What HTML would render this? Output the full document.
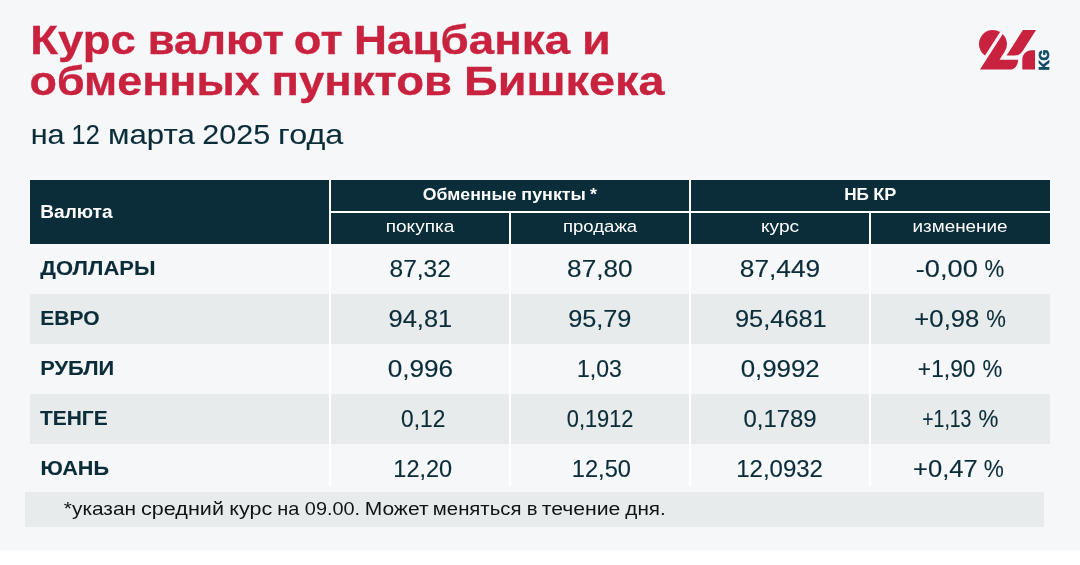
<!DOCTYPE html>
<html lang="ru"><head><meta charset="utf-8"><title>Курс валют от Нацбанка и обменных пунктов Бишкека</title><style>html,body{margin:0;padding:0;background:#fff}
body{width:1080px;height:565px;position:relative;overflow:hidden;font-family:"Liberation Sans", sans-serif}
.bg{position:absolute;left:0;top:0;width:1080px;height:550px;background:#f6f7f9}
.b{position:absolute}
.txt{font-family:"Liberation Sans", sans-serif}
</style></head><body>
<div class="bg"></div>
<div class="b" style="left:30px;top:180px;width:1020px;height:64px;background:#0b2d3a"></div>
<div class="b" style="left:30px;top:294px;width:1020px;height:50px;background:#e8ebec"></div>
<div class="b" style="left:30px;top:394px;width:1020px;height:50px;background:#e8ebec"></div>
<div class="b" style="left:329px;top:180px;width:2px;height:306px;background:#fff"></div>
<div class="b" style="left:509px;top:212px;width:2px;height:274px;background:#fff"></div>
<div class="b" style="left:689px;top:180px;width:2px;height:306px;background:#fff"></div>
<div class="b" style="left:869px;top:212px;width:2px;height:274px;background:#fff"></div>
<div class="b" style="left:330px;top:211px;width:720px;height:2px;background:#fff"></div>
<div class="b" style="left:25px;top:492px;width:1019px;height:35px;background:#e8ebec"></div>
<svg class="b" style="left:970px;top:20px" width="100" height="60" viewBox="970 20 100 60" role="img" aria-label="24.kg"><title>24.kg</title><path fill="#c8223f" d="M1000.10 31.90A14.0 14.0 0 0 0 985.02 55.47Z M1002.78 33.96A14.0 14.0 0 0 1 1004.76 51.50L999.51 59.70L1018.1 59.7C1018.1 65.2 1014.7 69.62 1010.2 69.62L979.96 69.62Z M1022.9 30.0L1036.1 30.0L1025.54 46.5C1021.70 52.5 1020.6 55.5 1014.6 55.5L1006.58 55.5Z M1035.0 50.2L1035.0 69.62L1022.3 69.62L1022.3 59.800000000000004C1022.3 54.5 1026.3 50.2 1031.5 50.2Z"/><text transform="translate(1049.4 70.3) rotate(-90)" font-family="Liberation Sans, sans-serif" font-weight="bold" font-size="15.4" fill="#0d4a63" stroke="#0d4a63" stroke-width="0.7" textLength="20.6" lengthAdjust="spacingAndGlyphs">KG</text></svg>
<svg class="b txt" style="left:0;top:0" width="1080" height="565" viewBox="0 0 1080 565">
<text id="t1" y="54" font-size="39.95" font-weight="bold" fill="#c8223f" stroke="#c8223f" stroke-width="0.3" stroke-linejoin="round"><tspan x="30.3" textLength="105.61" lengthAdjust="spacingAndGlyphs">Курс</tspan> <tspan x="147.7" textLength="136.12" lengthAdjust="spacingAndGlyphs">валют</tspan> <tspan x="293.84" textLength="48.79" lengthAdjust="spacingAndGlyphs">от</tspan> <tspan x="354.05" textLength="216.02" lengthAdjust="spacingAndGlyphs">Нацбанка</tspan> <tspan x="582.01" textLength="28.85" lengthAdjust="spacingAndGlyphs">и</tspan></text>
<text id="t2" y="95" font-size="39.95" font-weight="bold" fill="#c8223f" stroke="#c8223f" stroke-width="0.3" stroke-linejoin="round"><tspan x="29.61" textLength="230.03" lengthAdjust="spacingAndGlyphs">обменных</tspan> <tspan x="271.41" textLength="180.57" lengthAdjust="spacingAndGlyphs">пунктов</tspan> <tspan x="463.98" textLength="200.54" lengthAdjust="spacingAndGlyphs">Бишкека</tspan></text>
<text id="sub" y="144" font-size="28.1" font-weight="normal" fill="#0b2d3a" stroke="#0b2d3a" stroke-width="0.1" stroke-linejoin="round"><tspan x="30.67" textLength="33.94" lengthAdjust="spacingAndGlyphs">на</tspan> <tspan x="71.62" textLength="28.09" lengthAdjust="spacingAndGlyphs">12</tspan> <tspan x="108.0" textLength="86.75" lengthAdjust="spacingAndGlyphs">марта</tspan> <tspan x="202.32" textLength="67.98" lengthAdjust="spacingAndGlyphs">2025</tspan> <tspan x="278.11" textLength="65.25" lengthAdjust="spacingAndGlyphs">года</tspan></text>
<text id="hv" y="218" font-size="18.0" font-weight="bold" fill="#fff" x="40.32" textLength="72.24" lengthAdjust="spacingAndGlyphs">Валюта</text>
<text id="h1" y="200" font-size="15.67" font-weight="bold" fill="#fff"><tspan x="422.85" textLength="93.62" lengthAdjust="spacingAndGlyphs">Обменные</tspan> <tspan x="521.37" textLength="64.54" lengthAdjust="spacingAndGlyphs">пункты</tspan> <tspan x="590.12" textLength="6.96" lengthAdjust="spacingAndGlyphs">*</tspan></text>
<text id="h2" y="200" font-size="16.28" font-weight="bold" fill="#fff"><tspan x="844.27" textLength="24.65" lengthAdjust="spacingAndGlyphs">НБ</tspan> <tspan x="873.31" textLength="23.06" lengthAdjust="spacingAndGlyphs">КР</tspan></text>
<text id="s0" y="232" font-size="15.62" font-weight="normal" fill="#fff" x="385.78" textLength="68.47" lengthAdjust="spacingAndGlyphs">покупка</text>
<text id="s1" y="232" font-size="15.62" font-weight="normal" fill="#fff" x="562.92" textLength="74.24" lengthAdjust="spacingAndGlyphs">продажа</text>
<text id="s2" y="232" font-size="15.62" font-weight="normal" fill="#fff" x="761.03" textLength="38.13" lengthAdjust="spacingAndGlyphs">курс</text>
<text id="s3" y="232" font-size="15.62" font-weight="normal" fill="#fff" x="912.55" textLength="95.01" lengthAdjust="spacingAndGlyphs">изменение</text>
<text id="r0n" y="275" font-size="20.35" font-weight="bold" fill="#0b2d3a" stroke="#0b2d3a" stroke-width="0.1" stroke-linejoin="round" x="40.34" textLength="115.11" lengthAdjust="spacingAndGlyphs">ДОЛЛАРЫ</text>
<text id="r0c0" y="277" font-size="24.42" font-weight="normal" fill="#0b2d3a" stroke="#0b2d3a" stroke-width="0.15" stroke-linejoin="round" x="389.52" textLength="61.39" lengthAdjust="spacingAndGlyphs">87,32</text>
<text id="r0c1" y="277" font-size="24.42" font-weight="normal" fill="#0b2d3a" stroke="#0b2d3a" stroke-width="0.15" stroke-linejoin="round" x="567.12" textLength="65.48" lengthAdjust="spacingAndGlyphs">87,80</text>
<text id="r0c2" y="277" font-size="24.42" font-weight="normal" fill="#0b2d3a" stroke="#0b2d3a" stroke-width="0.15" stroke-linejoin="round" x="739.85" textLength="80.37" lengthAdjust="spacingAndGlyphs">87,449</text>
<text id="r0c3" y="277" font-size="24.42" font-weight="normal" fill="#0b2d3a" stroke="#0b2d3a" stroke-width="0.15" stroke-linejoin="round"><tspan x="915.8" textLength="61.97" lengthAdjust="spacingAndGlyphs">-0,00</tspan> <tspan x="984.57" textLength="19.7" lengthAdjust="spacingAndGlyphs">%</tspan></text>
<text id="r1n" y="325" font-size="20.35" font-weight="bold" fill="#0b2d3a" stroke="#0b2d3a" stroke-width="0.1" stroke-linejoin="round" x="40.32" textLength="59.2" lengthAdjust="spacingAndGlyphs">ЕВРО</text>
<text id="r1c0" y="327" font-size="24.42" font-weight="normal" fill="#0b2d3a" stroke="#0b2d3a" stroke-width="0.15" stroke-linejoin="round" x="388.59" textLength="63.56" lengthAdjust="spacingAndGlyphs">94,81</text>
<text id="r1c1" y="327" font-size="24.42" font-weight="normal" fill="#0b2d3a" stroke="#0b2d3a" stroke-width="0.15" stroke-linejoin="round" x="568.19" textLength="63.24" lengthAdjust="spacingAndGlyphs">95,79</text>
<text id="r1c2" y="327" font-size="24.42" font-weight="normal" fill="#0b2d3a" stroke="#0b2d3a" stroke-width="0.15" stroke-linejoin="round" x="734.99" textLength="91.77" lengthAdjust="spacingAndGlyphs">95,4681</text>
<text id="r1c3" y="327" font-size="24.42" font-weight="normal" fill="#0b2d3a" stroke="#0b2d3a" stroke-width="0.15" stroke-linejoin="round"><tspan x="914.39" textLength="64.97" lengthAdjust="spacingAndGlyphs">+0,98</tspan> <tspan x="986.22" textLength="19.62" lengthAdjust="spacingAndGlyphs">%</tspan></text>
<text id="r2n" y="375" font-size="20.35" font-weight="bold" fill="#0b2d3a" stroke="#0b2d3a" stroke-width="0.1" stroke-linejoin="round" x="40.28" textLength="73.99" lengthAdjust="spacingAndGlyphs">РУБЛИ</text>
<text id="r2c0" y="377" font-size="24.42" font-weight="normal" fill="#0b2d3a" stroke="#0b2d3a" stroke-width="0.15" stroke-linejoin="round" x="387.67" textLength="65.42" lengthAdjust="spacingAndGlyphs">0,996</text>
<text id="r2c1" y="377" font-size="24.42" font-weight="normal" fill="#0b2d3a" stroke="#0b2d3a" stroke-width="0.15" stroke-linejoin="round" x="577.03" textLength="44.79" lengthAdjust="spacingAndGlyphs">1,03</text>
<text id="r2c2" y="377" font-size="24.42" font-weight="normal" fill="#0b2d3a" stroke="#0b2d3a" stroke-width="0.15" stroke-linejoin="round" x="740.67" textLength="79.03" lengthAdjust="spacingAndGlyphs">0,9992</text>
<text id="r2c3" y="377" font-size="24.42" font-weight="normal" fill="#0b2d3a" stroke="#0b2d3a" stroke-width="0.15" stroke-linejoin="round"><tspan x="917.83" textLength="57.7" lengthAdjust="spacingAndGlyphs">+1,90</tspan> <tspan x="982.58" textLength="19.77" lengthAdjust="spacingAndGlyphs">%</tspan></text>
<text id="r3n" y="425" font-size="20.35" font-weight="bold" fill="#0b2d3a" stroke="#0b2d3a" stroke-width="0.1" stroke-linejoin="round" x="40.07" textLength="67.6" lengthAdjust="spacingAndGlyphs">ТЕНГЕ</text>
<text id="r3c0" y="427" font-size="24.42" font-weight="normal" fill="#0b2d3a" stroke="#0b2d3a" stroke-width="0.15" stroke-linejoin="round" x="401.09" textLength="44.19" lengthAdjust="spacingAndGlyphs">0,12</text>
<text id="r3c1" y="427" font-size="24.42" font-weight="normal" fill="#0b2d3a" stroke="#0b2d3a" stroke-width="0.15" stroke-linejoin="round" x="566.78" textLength="66.75" lengthAdjust="spacingAndGlyphs">0,1912</text>
<text id="r3c2" y="427" font-size="24.42" font-weight="normal" fill="#0b2d3a" stroke="#0b2d3a" stroke-width="0.15" stroke-linejoin="round" x="743.49" textLength="73.15" lengthAdjust="spacingAndGlyphs">0,1789</text>
<text id="r3c3" y="427" font-size="24.42" font-weight="normal" fill="#0b2d3a" stroke="#0b2d3a" stroke-width="0.15" stroke-linejoin="round"><tspan x="922.27" textLength="49.15" lengthAdjust="spacingAndGlyphs">+1,13</tspan> <tspan x="978.4" textLength="19.89" lengthAdjust="spacingAndGlyphs">%</tspan></text>
<text id="r4n" y="475" font-size="20.35" font-weight="bold" fill="#0b2d3a" stroke="#0b2d3a" stroke-width="0.1" stroke-linejoin="round" x="40.4" textLength="68.67" lengthAdjust="spacingAndGlyphs">ЮАНЬ</text>
<text id="r4c0" y="477" font-size="24.42" font-weight="normal" fill="#0b2d3a" stroke="#0b2d3a" stroke-width="0.15" stroke-linejoin="round" x="393.34" textLength="58.83" lengthAdjust="spacingAndGlyphs">12,20</text>
<text id="r4c1" y="477" font-size="24.42" font-weight="normal" fill="#0b2d3a" stroke="#0b2d3a" stroke-width="0.15" stroke-linejoin="round" x="571.82" textLength="59.18" lengthAdjust="spacingAndGlyphs">12,50</text>
<text id="r4c2" y="477" font-size="24.42" font-weight="normal" fill="#0b2d3a" stroke="#0b2d3a" stroke-width="0.15" stroke-linejoin="round" x="736.19" textLength="86.8" lengthAdjust="spacingAndGlyphs">12,0932</text>
<text id="r4c3" y="477" font-size="24.42" font-weight="normal" fill="#0b2d3a" stroke="#0b2d3a" stroke-width="0.15" stroke-linejoin="round"><tspan x="913.02" textLength="64.66" lengthAdjust="spacingAndGlyphs">+0,47</tspan> <tspan x="983.78" textLength="20.04" lengthAdjust="spacingAndGlyphs">%</tspan></text>
<text id="note" y="515" font-size="17.62" font-weight="normal" fill="#111417"><tspan x="63.86" textLength="72.2" lengthAdjust="spacingAndGlyphs">*указан</tspan> <tspan x="141.01" textLength="82.98" lengthAdjust="spacingAndGlyphs">средний</tspan> <tspan x="229.25" textLength="43.01" lengthAdjust="spacingAndGlyphs">курс</tspan> <tspan x="277.3" textLength="22.09" lengthAdjust="spacingAndGlyphs">на</tspan> <tspan x="304.86" textLength="55.29" lengthAdjust="spacingAndGlyphs">09.00.</tspan> <tspan x="364.65" textLength="63.89" lengthAdjust="spacingAndGlyphs">Может</tspan> <tspan x="432.86" textLength="88.59" lengthAdjust="spacingAndGlyphs">меняться</tspan> <tspan x="526.73" textLength="10.77" lengthAdjust="spacingAndGlyphs">в</tspan> <tspan x="541.71" textLength="78.7" lengthAdjust="spacingAndGlyphs">течение</tspan> <tspan x="625.34" textLength="40.39" lengthAdjust="spacingAndGlyphs">дня.</tspan></text>
</svg>
</body></html>
